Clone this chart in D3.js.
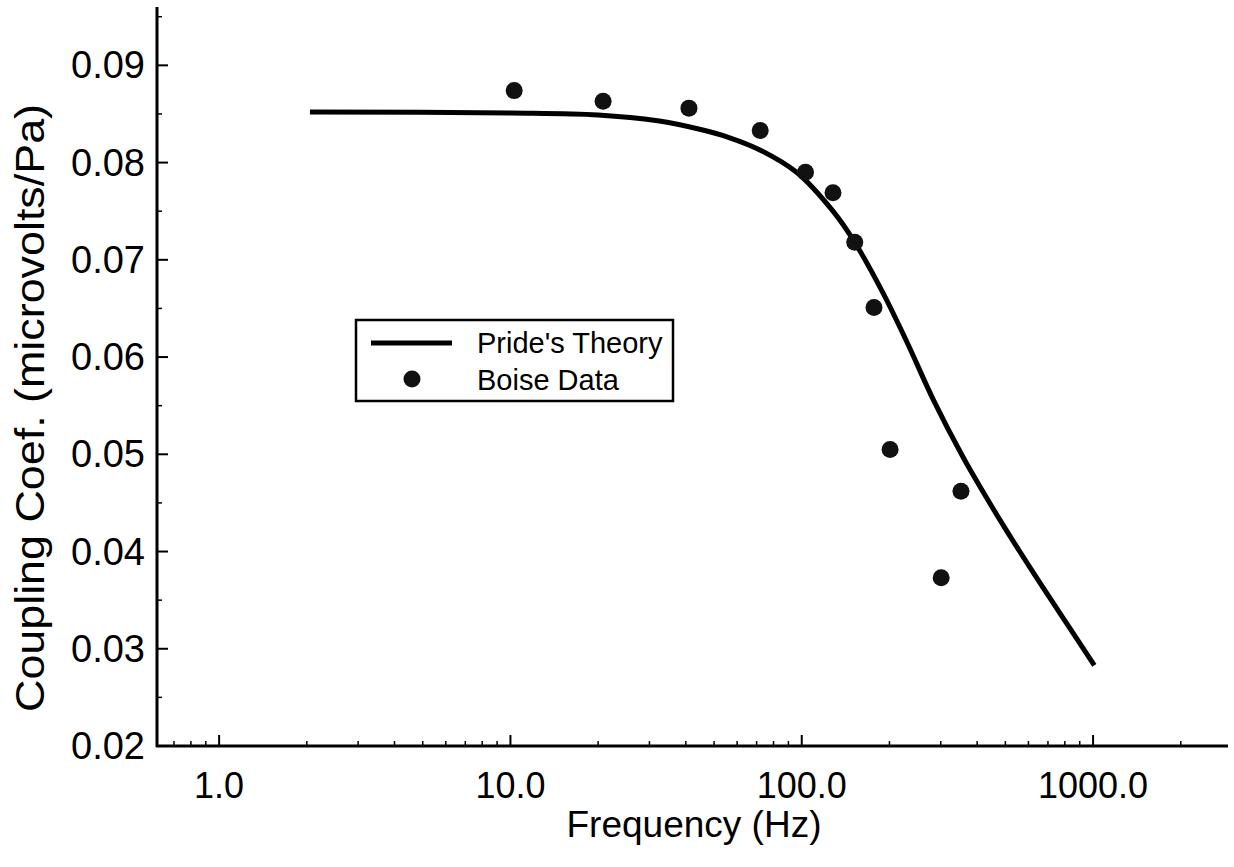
<!DOCTYPE html>
<html>
<head>
<meta charset="utf-8">
<script src="https://cdn.jsdelivr.net/npm/d3@7"></script>
<style>
    body { margin: 0; background: #fff; }
    svg { display: block; font-family: "Liberation Sans", Arial, sans-serif; }
</style>
</head>
<body>
<div id="chart"></div>
<script>
'use strict';

// Pride's theory curve
const theoryFreq = [2.05, 10, 20, 32, 45, 56, 73, 96, 128, 152, 190, 230, 283, 358, 420, 480, 600, 760, 1010];
const theoryCoef = [0.0852, 0.0851, 0.0849, 0.0843, 0.0834, 0.0826, 0.0812, 0.0790, 0.0750, 0.0718, 0.0666, 0.0615, 0.0556, 0.0497, 0.0461, 0.0432, 0.0386, 0.0339, 0.0283];

// Boise measurements
const boiseFreq = [10.3, 20.8, 41, 72, 103, 128, 152, 177, 201, 301, 352];
const boiseCoef = [0.0874, 0.0863, 0.0856, 0.0833, 0.0790, 0.0769, 0.0718, 0.0651, 0.0505, 0.0373, 0.0462];

const xTickValues = [1, 10, 100, 1000];
const xTickLabels = ['1.0', '10.0', '100.0', '1000.0'];
const yTickValues = [0.02, 0.03, 0.04, 0.05, 0.06, 0.07, 0.08, 0.09];
const yTickLabels = ['0.02', '0.03', '0.04', '0.05', '0.06', '0.07', '0.08', '0.09'];
const xDomain = [0.612, 2905];
const yDomain = [0.02, 0.096];

const legendLabels = ["Pride's Theory", 'Boise Data'];

var Chart = function chart() {

    let svg;
    let xScale;
    let yScale;

    let config = {
        width: 1234,
        height: 867,
        left: 157,
        right: 1228,
        top: 7,
        bottom: 746
    };

    let renderSVG = function renderSVG(element) {
        svg = d3.select(element)
            .append('svg')
            .attr('width', config.width)
            .attr('height', config.height);
    }

    let setScale = function setScale() {
        xScale = d3.scaleLog()
            .domain(xDomain)
            .range([config.left, config.right]);

        yScale = d3.scaleLinear()
            .domain(yDomain)
            .range([config.bottom, config.top]);
    }

    let renderXAxis = function renderXAxis() {
        let g = svg.append('g').attr('class', 'x-axis');

        g.append('line')
            .attr('x1', config.left - 1).attr('x2', config.right)
            .attr('y1', config.bottom).attr('y2', config.bottom)
            .attr('stroke', '#000').attr('stroke-width', 3);

        // minor ticks 2..9 in each decade
        let minor = [];
        [0.1, 1, 10, 100, 1000].forEach(d => {
            for (let k = 2; k <= 9; k++) {
                let v = d * k;
                if (v > xDomain[0] && v < xDomain[1]) minor.push(v);
            }
        });

        g.selectAll('.minor')
            .data(minor)
            .enter()
            .append('line')
            .attr('class', 'minor')
            .attr('x1', d => xScale(d)).attr('x2', d => xScale(d))
            .attr('y1', config.bottom).attr('y2', config.bottom - 5)
            .attr('stroke', '#000').attr('stroke-width', 1.5);

        g.selectAll('.major')
            .data(xTickValues)
            .enter()
            .append('line')
            .attr('class', 'major')
            .attr('x1', d => xScale(d)).attr('x2', d => xScale(d))
            .attr('y1', config.bottom).attr('y2', config.bottom - 11)
            .attr('stroke', '#000').attr('stroke-width', 2);

        g.selectAll('.label')
            .data(xTickValues)
            .enter()
            .append('text')
            .attr('class', 'label')
            .attr('x', d => xScale(d))
            .attr('y', 798)
            .attr('text-anchor', 'middle')
            .attr('font-size', 36)
            .text((d, i) => xTickLabels[i]);

        svg.append('text')
            .attr('x', 694)
            .attr('y', 837)
            .attr('text-anchor', 'middle')
            .attr('font-size', 37)
            .text('Frequency (Hz)');
    }

    let renderYAxis = function renderYAxis() {
        let g = svg.append('g').attr('class', 'y-axis');

        g.append('line')
            .attr('x1', config.left).attr('x2', config.left)
            .attr('y1', config.top).attr('y2', config.bottom + 1)
            .attr('stroke', '#000').attr('stroke-width', 3);

        let minor = d3.range(0.025, 0.096, 0.01);

        g.selectAll('.minor')
            .data(minor)
            .enter()
            .append('line')
            .attr('class', 'minor')
            .attr('x1', config.left).attr('x2', config.left + 5)
            .attr('y1', d => yScale(d)).attr('y2', d => yScale(d))
            .attr('stroke', '#000').attr('stroke-width', 1.5);

        g.selectAll('.major')
            .data(yTickValues)
            .enter()
            .append('line')
            .attr('class', 'major')
            .attr('x1', config.left).attr('x2', config.left + 11)
            .attr('y1', d => yScale(d)).attr('y2', d => yScale(d))
            .attr('stroke', '#000').attr('stroke-width', 2);

        g.selectAll('.label')
            .data(yTickValues)
            .enter()
            .append('text')
            .attr('class', 'label')
            .attr('x', 145)
            .attr('y', d => yScale(d) + 13)
            .attr('text-anchor', 'end')
            .attr('font-size', 38)
            .text((d, i) => yTickLabels[i]);

        svg.append('text')
            .attr('transform', 'translate(44,408) rotate(-90)')
            .attr('text-anchor', 'middle')
            .attr('font-size', 40)
            .attr('textLength', 608)
            .attr('lengthAdjust', 'spacingAndGlyphs')
            .text('Coupling Coef. (microvolts/Pa)');
    }

    let drawLine = function drawLine() {
        let data = theoryFreq.map((f, i) => ({ f: f, v: theoryCoef[i] }));

        let line = d3.line()
            .curve(d3.curveCatmullRom.alpha(0.5))
            .x(d => xScale(d.f))
            .y(d => yScale(d.v));

        svg.append('path')
            .datum(data)
            .attr('class', 'theory')
            .attr('d', line)
            .attr('fill', 'none')
            .attr('stroke', '#000')
            .attr('stroke-width', 5);
    }

    let drawDots = function drawDots() {
        let data = boiseFreq.map((f, i) => ({ f: f, v: boiseCoef[i] }));

        svg.append('g')
            .attr('class', 'dots')
            .selectAll('circle')
            .data(data)
            .enter()
            .append('circle')
            .attr('cx', d => xScale(d.f))
            .attr('cy', d => yScale(d.v))
            .attr('r', 8.5)
            .attr('fill', '#111');
    }

    let drawLegend = function drawLegend() {
        let g = svg.append('g')
            .attr('class', 'legend')
            .attr('transform', 'translate(356,320)');

        g.append('rect')
            .attr('width', 317)
            .attr('height', 81)
            .attr('fill', '#fff')
            .attr('stroke', '#000')
            .attr('stroke-width', 2.5);

        g.append('line')
            .attr('x1', 15).attr('x2', 96)
            .attr('y1', 23).attr('y2', 23)
            .attr('stroke', '#000').attr('stroke-width', 5);

        g.append('circle')
            .attr('cx', 56).attr('cy', 59)
            .attr('r', 8.5)
            .attr('fill', '#111');

        g.selectAll('text')
            .data(legendLabels)
            .enter()
            .append('text')
            .attr('x', 121)
            .attr('y', (d, i) => 33 + i * 37)
            .attr('font-size', 29)
            .text(d => d);
    }

    let render = function render(el) {
        renderSVG(el);
        setScale();
        renderXAxis();
        renderYAxis();
        drawLine();
        drawDots();
        drawLegend();
    }

    return { render: render };
}

Chart().render('#chart');
</script>
</body>
</html>
